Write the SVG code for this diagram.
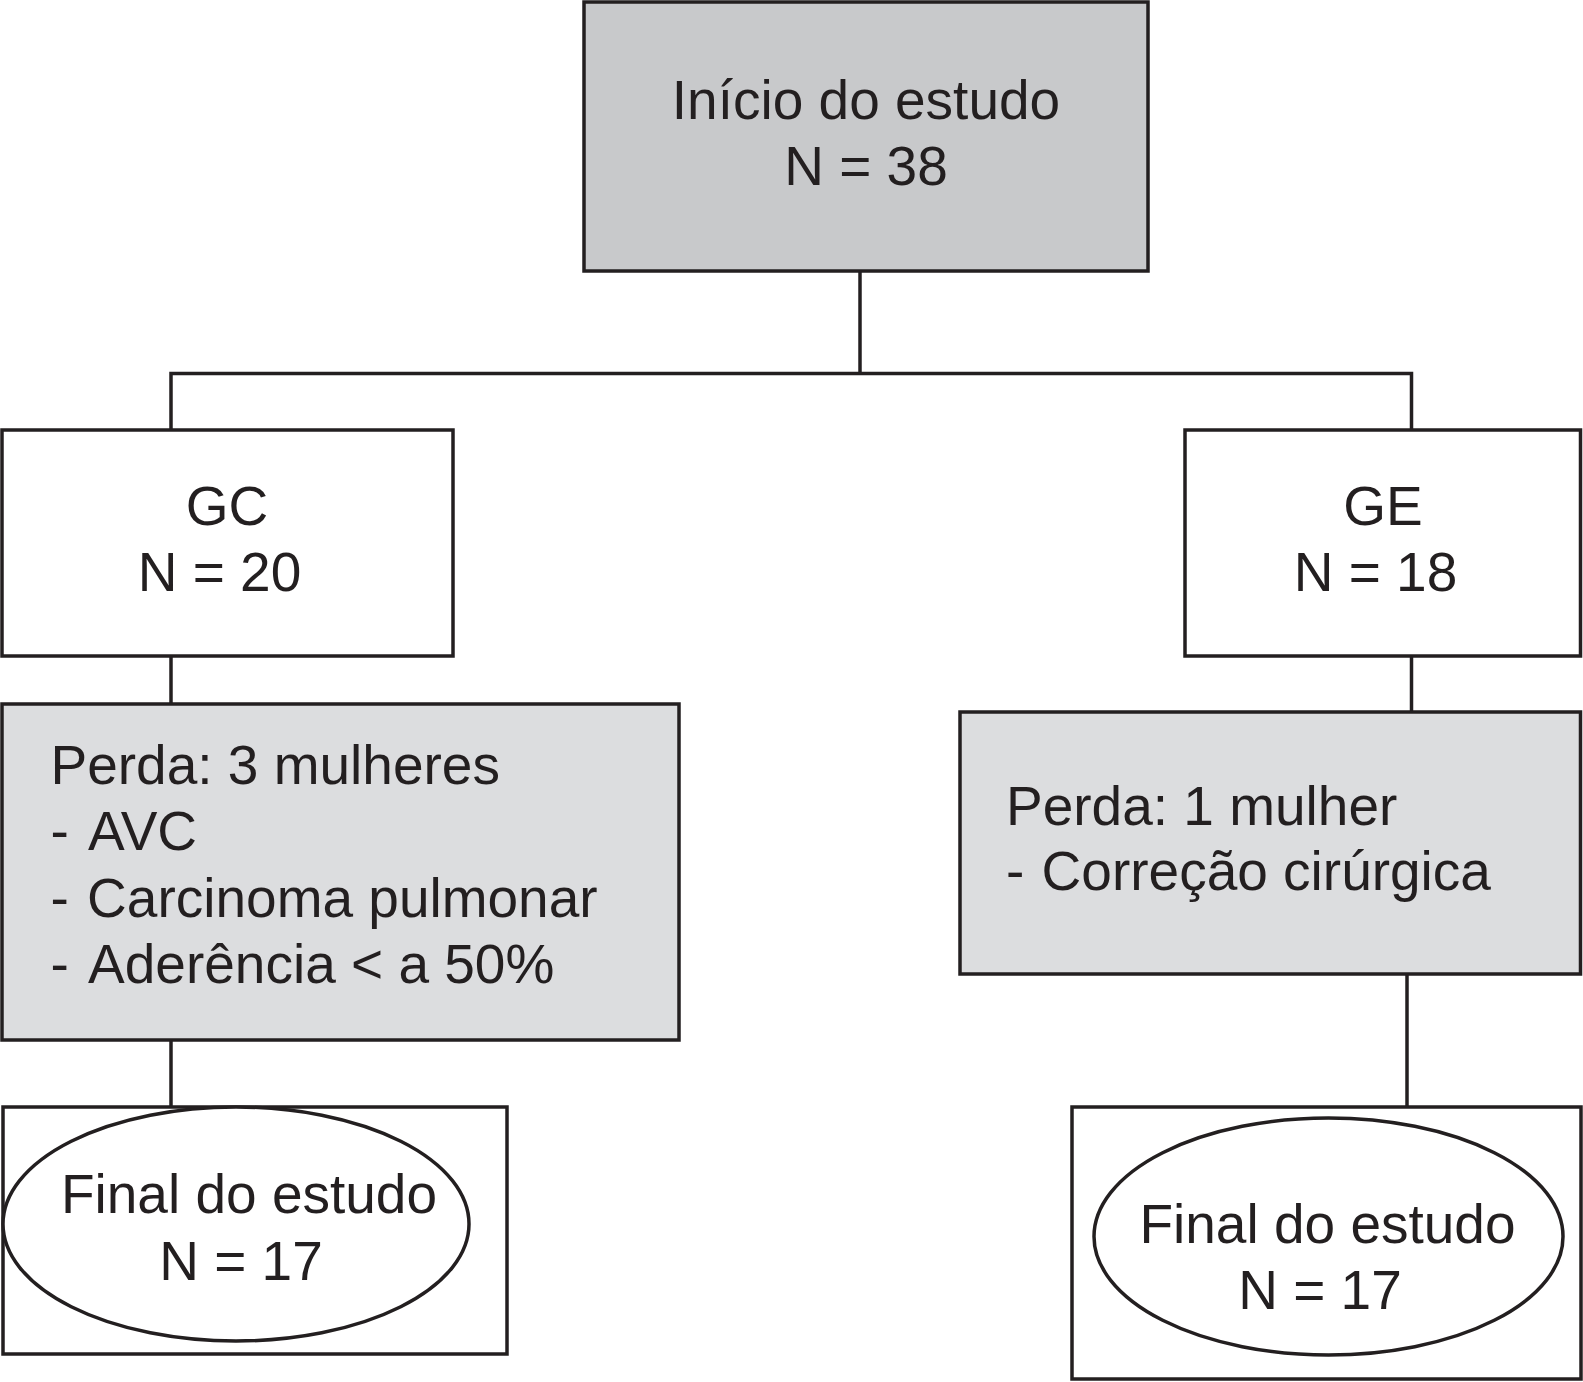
<svg xmlns="http://www.w3.org/2000/svg" width="1583" height="1382" viewBox="0 0 1583 1382">
<style>
.box{stroke:#231f20;stroke-width:3.5;}
.w{fill:#ffffff;}
.g1{fill:#c8c9cb;}
.g2{fill:#dcdddf;}
.t{font-family:"Liberation Sans",Arial,Helvetica,sans-serif;font-size:55px;fill:#231f20;}
.c{text-anchor:middle;}
.ln{stroke:#231f20;stroke-width:3.5;fill:none;}
</style>
<rect width="1583" height="1382" fill="#ffffff"/>
<g id="connectors">
<line class="ln" x1="860" y1="271" x2="860" y2="373.5"/>
<polyline class="ln" points="171,430 171,373.5 1411.5,373.5 1411.5,430"/>
<line class="ln" x1="171" y1="656" x2="171" y2="704"/>
<line class="ln" x1="1411.5" y1="656" x2="1411.5" y2="712"/>
<line class="ln" x1="171" y1="1040" x2="171" y2="1107"/>
<line class="ln" x1="1407" y1="974" x2="1407" y2="1107"/>
</g>
<g id="inicio">
<rect class="box g1" x="584" y="2" width="564" height="269"/>
<text class="t c" x="866" y="119">Início do estudo</text>
<text class="t c" x="866" y="185">N = 38</text>
</g>
<g id="gc">
<rect class="box w" x="2" y="430" width="451" height="226"/>
<text class="t c" x="227" y="525">GC</text>
<text class="t c" x="219.5" y="591">N = 20</text>
</g>
<g id="ge">
<rect class="box w" x="1185" y="430" width="395.5" height="226"/>
<text class="t c" x="1383" y="524.5">GE</text>
<text class="t c" x="1375.5" y="590.5">N = 18</text>
</g>
<g id="perda-gc">
<rect class="box g2" x="2" y="704" width="677" height="336"/>
<text class="t" x="50.5" y="783.5">Perda: 3 mulheres</text>
<text class="t" x="50.5" y="850">-<tspan dx="7"> AVC</tspan></text>
<text class="t" x="50.5" y="916.5">-<tspan dx="3"> Carcinoma pulmonar</tspan></text>
<text class="t" x="50.5" y="983">-<tspan dx="7"> Aderência &lt; a 50%</tspan></text>
</g>
<g id="perda-ge">
<rect class="box g2" x="960" y="712" width="620.5" height="262"/>
<text class="t" x="1006" y="824.5">Perda: 1 mulher</text>
<text class="t" x="1006" y="890">-<tspan dx="2"> Correção cirúrgica</tspan></text>
</g>
<g id="final-gc">
<rect class="box w" x="3" y="1107" width="504" height="247"/>
<ellipse class="box w" cx="236" cy="1224" rx="233" ry="117"/>
<text class="t c" x="249" y="1213">Final do estudo</text>
<text class="t c" x="241" y="1279.5">N = 17</text>
</g>
<g id="final-ge">
<rect class="box w" x="1072" y="1107" width="509" height="272"/>
<ellipse class="box w" cx="1328.5" cy="1236.5" rx="234.5" ry="118.5"/>
<text class="t c" x="1327.5" y="1242.5">Final do estudo</text>
<text class="t c" x="1320" y="1309">N = 17</text>
</g>
</svg>
